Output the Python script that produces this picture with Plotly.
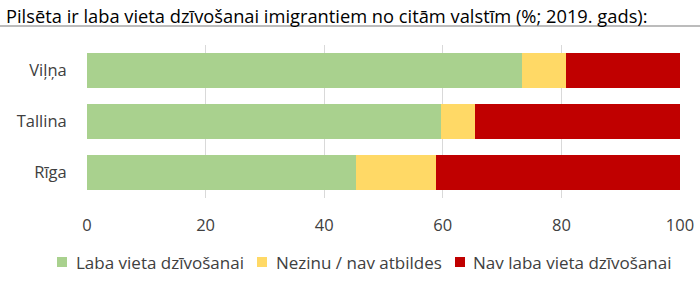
import plotly.graph_objects as go

cities = ["Rīga", "Tallina", "Viļņa"]
good = [45.3, 59.7, 73.3]
unknown = [13.5, 5.8, 7.4]
bad = [41.2, 34.5, 19.3]
series_names = ["Laba vieta dzīvošanai", "Nezinu / nav atbildes", "Nav laba vieta dzīvošanai"]
colors = ["#a9d18e", "#ffd966", "#c00000"]
title_text = "Pilsēta ir laba vieta dzīvošanai imigrantiem no citām valstīm (%; 2019. gads):"

W, H = 700, 283
ML, MR, MT, MB = 87, 20, 45, 85
PW, PH = W - ML - MR, H - MT - MB


def px(x):
    return (x - ML) / PW


def py(y):
    return (H - MB - y) / PH


fig = go.Figure()
for name, vals, col in zip(series_names, [good, unknown, bad], colors):
    fig.add_trace(go.Bar(y=cities, x=vals, name=name, orientation="h", showlegend=False,
                         marker=dict(color=col, line=dict(width=0))))

line_y = py(26)

# manual legend (Excel style: small squares + text)
legend_sq_x = [57, 257, 455]
legend_txt_x = [74, 274, 471]
legend_yc = 262
shapes = [dict(type="line", xref="paper", yref="paper", x0=px(0), x1=px(W),
               y0=line_y, y1=line_y, line=dict(color="#a6a6a6", width=1.5))]
annotations = [dict(text=title_text, xref="paper", yref="paper", x=px(4), y=py(15),
                    xanchor="left", yanchor="middle", showarrow=False,
                    font=dict(size=18.3, color="#000000"))]
for name, col, sx, tx in zip(series_names, colors, legend_sq_x, legend_txt_x):
    shapes.append(dict(type="rect", xref="paper", yref="paper",
                       x0=px(sx), x1=px(sx + 10), y0=py(legend_yc - 5), y1=py(legend_yc + 5),
                       fillcolor=col, line=dict(width=0)))
    annotations.append(dict(text=name, xref="paper", yref="paper", x=px(tx), y=py(legend_yc),
                            xanchor="left", yanchor="middle", showarrow=False,
                            font=dict(size=17, color="#404040")))

fig.update_layout(
    barmode="stack",
    bargap=0.31,
    width=W, height=H,
    margin=dict(l=ML, r=MR, t=MT, b=MB, autoexpand=False),
    paper_bgcolor="white", plot_bgcolor="white",
    font=dict(family="Open Sans", size=16, color="#404040"),
    showlegend=False,
    xaxis=dict(range=[0, 100], tickvals=[0, 20, 40, 60, 80, 100],
               showgrid=True, gridcolor="#d9d9d9", gridwidth=1,
               zeroline=False, showline=False, ticks="outside", ticklen=12,
               tickcolor="rgba(0,0,0,0)",
               tickfont=dict(size=16.5, color="#404040")),
    yaxis=dict(showgrid=False, zeroline=False, showline=False, ticks="outside",
               ticklen=16, tickcolor="rgba(0,0,0,0)",
               tickfont=dict(size=16.5, color="#404040")),
    annotations=annotations,
    shapes=shapes,
)

fig.write_html("out.html")
